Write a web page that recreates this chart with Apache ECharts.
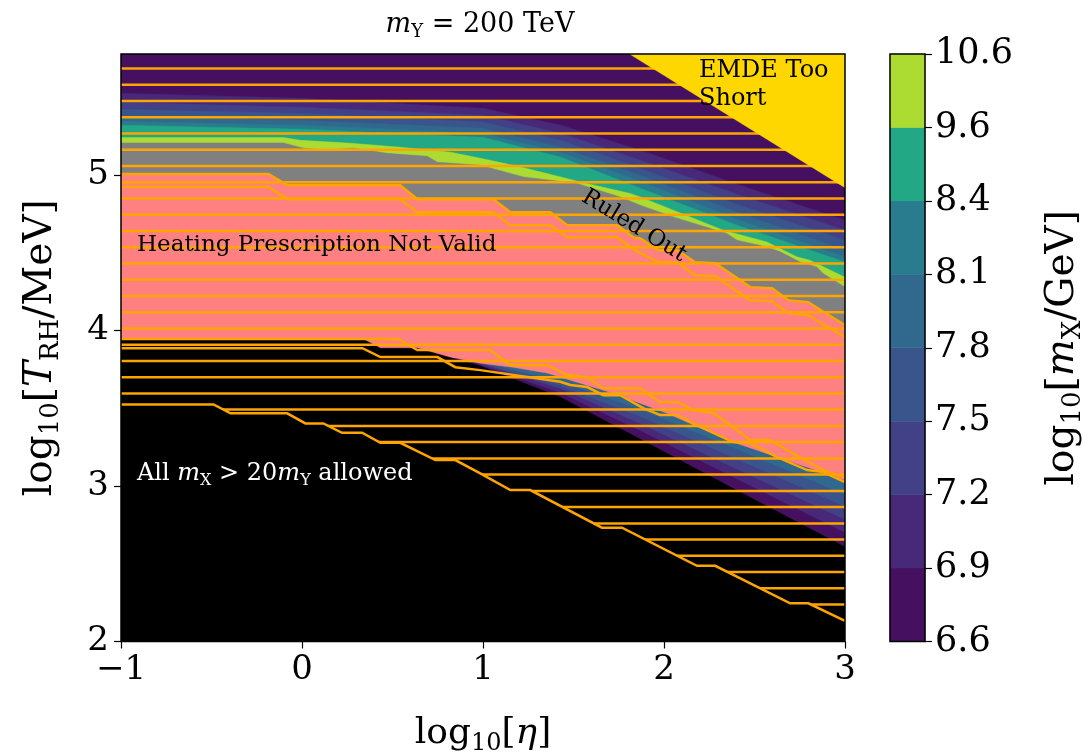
<!DOCTYPE html>
<html>
<head>
<meta charset="UTF-8"/>
<title></title>
<script src="https://cdn.jsdelivr.net/npm/echarts@6/dist/echarts.min.js"></script>
<style>
html,body{margin:0;padding:0;background:#fff;}
#placeholder{width:1090px;height:756px;}
</style>
</head>
<body>
<div id="placeholder"></div>
<script type="text/javascript">
var SERIF = '"DejaVu Serif", serif';

// axis ticks
var xTicks = [-1, 0, 1, 2, 3];
var yTicks = [2, 3, 4, 5];

// colorbar levels of log10[m_X/GeV] and their colours
var cbLevels = ['6.6', '6.9', '7.2', '7.5', '7.8', '8.1', '8.4', '9.6', '10.6'];
var cbColors = ['#461061', '#482878', '#424086', '#39558c', '#31688e', '#297b8e', '#22a884', '#acdc31'];

// upper contour lines (level boundaries), read at bandX
var bandX = [-1, 0, 1, 1.43, 1.87, 2.42, 3];
var upper69 = [5.527, 5.495, 5.431, 5.322, 5.161, 4.936, 4.711];
var upper72 = [5.469, 5.437, 5.386, 5.270, 5.096, 4.871, 4.646];
var upper75 = [5.424, 5.399, 5.343, 5.225, 5.045, 4.807, 4.582];
var upper78 = [5.379, 5.354, 5.302, 5.180, 5.000, 4.756, 4.518];
var upper81 = [5.347, 5.322, 5.270, 5.148, 4.962, 4.711, 4.475];
var upper84 = [5.322, 5.296, 5.244, 5.116, 4.916, 4.672, 4.442];
var upper96 = [[-1, 5.242], [-0.103, 5.242], [-0.009, 5.225], [0.267, 5.206], [0.543, 5.180], [0.820, 5.148],
  [0.985, 5.109], [1.167, 5.064], [1.353, 5.011], [1.537, 4.957], [1.813, 4.882], [1.869, 4.860], [2.051, 4.775],
  [2.327, 4.646], [2.568, 4.571], [2.733, 4.475], [2.806, 4.453], [3, 4.344]];

// "ruled out" (grey) upper edge
var ruledTop = [[-1, 5.208], [-0.103, 5.208], [0.008, 5.174], [0.140, 5.161], [0.284, 5.174], [0.472, 5.141],
  [0.692, 5.122], [0.748, 5.084], [0.985, 5.064], [1.223, 4.989], [1.519, 4.947], [1.758, 4.860], [1.869, 4.807],
  [2.051, 4.732], [2.347, 4.625], [2.403, 4.582], [2.568, 4.539], [2.642, 4.507], [2.752, 4.442], [2.844, 4.410],
  [2.879, 4.368], [3, 4.280]];

// lower strip contour lines, read at stripX
var stripX = [0.637, 0.985, 1.427, 1.869, 2.421, 3];
var lower69 = [3.887, 3.778, 3.598, 3.354, 3.032, 2.698];
var lower72 = [3.887, 3.785, 3.624, 3.399, 3.096, 2.781];
var lower75 = [3.887, 3.791, 3.643, 3.444, 3.161, 2.865];
var lower78 = [3.887, 3.798, 3.669, 3.489, 3.225, 2.942];

// heating prescription not valid (pink)
var pinkTop = [[-1, 5.008], [-0.186, 5.008], [-0.081, 4.936], [0.543, 4.936], [0.637, 4.846], [1.057, 4.846],
  [1.151, 4.762], [1.372, 4.762], [1.465, 4.678], [1.742, 4.678], [1.830, 4.601], [1.869, 4.593], [1.968, 4.518],
  [2.073, 4.518], [2.172, 4.440], [2.283, 4.434], [2.476, 4.280], [2.597, 4.273], [2.686, 4.196], [2.796, 4.183],
  [3, 4.035]];
var pinkLow = [[-1, 3.945], [0.339, 3.945], [0.433, 3.887], [0.637, 3.887], [0.764, 3.830], [0.858, 3.823],
  [0.985, 3.791], [1.167, 3.765], [1.355, 3.727], [1.720, 3.598], [2.018, 3.469], [2.349, 3.296], [3, 3.039]];

// all m_X > 20 m_Y allowed (black) upper edge
var blackTop = [[-1, 3.945], [0.339, 3.945], [0.433, 3.887], [0.637, 3.887], [0.985, 3.772], [1.427, 3.572],
  [1.869, 3.302], [2.421, 2.961], [3, 2.608]];

// hatched region lower boundary
var hatchLow = [[-1, 3.525], [-0.489, 3.525], [-0.395, 3.468], [-0.082, 3.468], [0.019, 3.403], [0.118, 3.403],
  [0.221, 3.343], [0.332, 3.343], [0.433, 3.278], [0.543, 3.278], [0.737, 3.167], [0.847, 3.167], [0.985, 3.082],
  [1.151, 2.974], [1.261, 2.974], [1.657, 2.732], [1.768, 2.732], [2.182, 2.487], [2.283, 2.487], [2.697, 2.246],
  [2.798, 2.246], [3, 2.132]];

// other hatched-region edges
var edgeB = [[-1, 4.925], [-0.186, 4.925], [-0.081, 4.846], [0.543, 4.846], [0.637, 4.762], [1.057, 4.762],
  [1.151, 4.678], [1.372, 4.678], [1.465, 4.601], [1.742, 4.601], [1.830, 4.524], [1.968, 4.440], [2.073, 4.440],
  [2.172, 4.357], [2.283, 4.350], [2.476, 4.196], [2.597, 4.190], [2.686, 4.113], [2.796, 4.100], [3, 3.958]];
var edgeC = [[-1, 3.947], [0.532, 3.947], [0.637, 3.875], [1.040, 3.875], [1.151, 3.778], [1.355, 3.778],
  [1.465, 3.714], [1.576, 3.701], [1.664, 3.630], [1.869, 3.630], [1.979, 3.540], [2.078, 3.540], [2.161, 3.489],
  [2.272, 3.470], [2.382, 3.379], [2.476, 3.296], [2.586, 3.296], [2.680, 3.232], [2.879, 3.103], [3, 3.058]];
var edgeD = [[-1, 3.887], [0.334, 3.887], [0.433, 3.830], [0.748, 3.830], [0.847, 3.765], [0.985, 3.746],
  [1.427, 3.671], [1.482, 3.650], [1.576, 3.637], [1.664, 3.585], [1.758, 3.585], [1.885, 3.502], [1.979, 3.457],
  [2.073, 3.457], [2.183, 3.392], [2.382, 3.283], [2.476, 3.277], [2.625, 3.186], [2.791, 3.103], [2.879, 3.090],
  [3, 3.026]];

// horizontal hatch lines
var hatchY = [5.686, 5.582, 5.477, 5.373, 5.268, 5.164, 5.059, 4.955, 4.850, 4.746, 4.641, 4.537, 4.432, 4.328,
  4.223, 4.119, 4.014, 3.910, 3.805, 3.701, 3.596, 3.492, 3.387, 3.283, 3.178, 3.074, 2.969, 2.865, 2.760, 2.656,
  2.551, 2.447, 2.342, 2.238, 2.133];

// EMDE too short
var emde = [[1.81, 5.78], [3, 5.78], [3, 4.92]];

var X0 = -1, X1 = 3, Y0 = 2, Y1 = 5.78;

function zip(xs, ys) {
  return xs.map(function (x, i) { return [x, ys[i]]; });
}
function below(pts) {
  return pts.concat([[pts[pts.length - 1][0], Y0], [pts[0][0], Y0]]);
}

function polySeries(pts, color) {
  return {
    type: 'custom', silent: true, clip: true, data: [[0, 3]],
    renderItem: function (params, api) {
      return {
        type: 'polygon',
        shape: {points: pts.map(function (p) { return api.coord(p); })},
        style: {fill: color, stroke: color, lineWidth: 0.5}
      };
    }
  };
}
function lineSeries(pts) {
  return {
    type: 'custom', silent: true, clip: true, data: [[0, 3]],
    renderItem: function (params, api) {
      return {
        type: 'polyline',
        shape: {points: pts.map(function (p) { return api.coord(p); })},
        style: {fill: null, stroke: '#ffa500', lineWidth: 2.5}
      };
    }
  };
}

var series = [];
series.push(polySeries([[X0, Y1], [X1, Y1], [X1, Y0], [X0, Y0]], cbColors[0]));
[upper69, upper72, upper75, upper78, upper81, upper84].forEach(function (ys, i) {
  series.push(polySeries(below(zip(bandX, ys)), cbColors[i + 1]));
});
series.push(polySeries(below(upper96), cbColors[7]));
series.push(polySeries(below(ruledTop), '#808080'));
series.push(polySeries(below(pinkLow), cbColors[4]));
[lower78, lower75, lower72, lower69].forEach(function (ys, i) {
  series.push(polySeries(below(zip(stripX, ys)), cbColors[3 - i]));
});
series.push(polySeries(pinkTop.concat(pinkLow.slice().reverse()), '#ff8080'));
series.push(polySeries(below(blackTop), '#000000'));
series.push({
  type: 'custom', silent: true, clip: true,
  data: hatchY.map(function (y) { return [X0, y]; }),
  renderItem: function (params, api) {
    var a = api.coord([X0, api.value(1)]);
    var b = api.coord([X1, api.value(1)]);
    return {type: 'line', shape: {x1: a[0], y1: a[1], x2: b[0], y2: b[1]},
      style: {stroke: '#ffa500', lineWidth: 2.5}};
  }
});
series.push(polySeries(below(hatchLow), '#000000'));
[hatchLow, pinkTop, edgeB, edgeC, edgeD].forEach(function (pts) {
  series.push(lineSeries(pts));
});
series.push(polySeries(emde, '#ffd700'));

// colorbar
series.push({
  type: 'custom', silent: true, xAxisIndex: 1, yAxisIndex: 1,
  data: cbColors.map(function (c, i) { return [0, i]; }),
  renderItem: function (params, api) {
    var i = api.value(1);
    var a = api.coord([0, i + 1]);
    var b = api.coord([1, i]);
    return {type: 'rect', shape: {x: a[0], y: a[1], width: b[0] - a[0], height: b[1] - a[1]},
      style: {fill: cbColors[i], stroke: cbColors[i], lineWidth: 0.5}};
  }
});

var richMath = function (size, sub, color) {
  return {
    r: {fontFamily: SERIF, fontSize: size, color: color, fill: color, lineHeight: size + 6},
    i: {fontFamily: SERIF, fontStyle: 'italic', fontSize: size, color: color, fill: color, lineHeight: size + 6},
    s: {fontFamily: SERIF, fontSize: sub, color: color, fill: color, lineHeight: sub, padding: [Math.round(size * 0.55), 0, 0, 0]}
  };
};

function fmtMinus(v) {
  return v < 0 ? '\u2212' + Math.abs(v) : String(v);
}

var myChart = echarts.init(document.getElementById('placeholder'));
var option = {
  animation: false,
  backgroundColor: '#ffffff',
  grid: [
    {left: 121, top: 54, width: 724, height: 587.5, outerBoundsMode: 'none', containLabel: false,
      show: true, borderColor: '#000', borderWidth: 1.5, backgroundColor: 'transparent', z: 10},
    {left: 890, top: 54, width: 35, height: 587.5, outerBoundsMode: 'none', containLabel: false,
      show: true, borderColor: '#000', borderWidth: 1.5, backgroundColor: 'transparent', z: 10}
  ],
  xAxis: [
    {
      gridIndex: 0, type: 'value', min: X0, max: X1, interval: 1, z: 10,
      axisLine: {show: false, onZero: false},
      axisTick: {show: true, length: 7, customValues: xTicks, lineStyle: {color: '#000', width: 1.2}},
      axisLabel: {customValues: xTicks, formatter: fmtMinus, fontFamily: SERIF, fontSize: 34, color: '#000', margin: 12},
      splitLine: {show: false},
      name: '{r|log}{s|10}{r|[}{i|η}{r|]}', nameLocation: 'middle', nameGap: 71,
      nameTextStyle: {rich: richMath(36, 24, '#000')}
    },
    {gridIndex: 1, type: 'value', min: 0, max: 1, show: false}
  ],
  yAxis: [
    {
      gridIndex: 0, type: 'value', min: Y0, max: Y1, interval: 1, z: 10,
      axisLine: {show: false, onZero: false},
      axisTick: {show: true, length: 7, customValues: yTicks, lineStyle: {color: '#000', width: 1.2}},
      axisLabel: {customValues: yTicks, fontFamily: SERIF, fontSize: 34, color: '#000', margin: 12},
      splitLine: {show: false},
      name: '{r|log}{s|10}{r|[}{i|T}{s|RH}{r|/MeV]}', nameLocation: 'middle', nameGap: 58, nameRotate: 90,
      nameTextStyle: {rich: richMath(39, 26, '#000')}
    },
    {
      gridIndex: 1, type: 'value', min: 0, max: 8, interval: 1, position: 'right', z: 10,
      axisLine: {show: false, onZero: false},
      axisTick: {show: true, length: 7, lineStyle: {color: '#000', width: 1.2}},
      axisLabel: {formatter: function (v) { return cbLevels[Math.round(v)]; }, fontFamily: SERIF, fontSize: 35, color: '#000', margin: 10},
      splitLine: {show: false},
      name: '{r|log}{s|10}{r|[}{i|m}{s|X}{r|/GeV]}', nameLocation: 'middle', nameGap: 115, nameRotate: 90,
      nameTextStyle: {rich: richMath(39, 26, '#000')}
    }
  ],
  graphic: [
    {type: 'text', x: 480, y: 25, z: 100, silent: true,
      style: {text: '{i|m}{s|Y}{r| = 200 TeV}', align: 'center', verticalAlign: 'middle', rich: richMath(27, 18, '#000')}},
    {type: 'text', x: 699, y: 71, z: 100, silent: true,
      style: {text: 'EMDE Too', font: '24px ' + SERIF, fill: '#000', align: 'left', verticalAlign: 'middle'}},
    {type: 'text', x: 699, y: 99, z: 100, silent: true,
      style: {text: 'Short', font: '24px ' + SERIF, fill: '#000', align: 'left', verticalAlign: 'middle'}},
    {type: 'text', x: 137, y: 245, z: 100, silent: true,
      style: {text: 'Heating Prescription Not Valid', font: '23px ' + SERIF, fill: '#000', align: 'left', verticalAlign: 'middle'}},
    {type: 'text', x: 634, y: 226, z: 100, silent: true, rotation: -0.55, originX: 0, originY: 0,
      style: {text: 'Ruled Out', font: '23px ' + SERIF, fill: '#000', align: 'center', verticalAlign: 'middle'}},
    {type: 'text', x: 137, y: 474, z: 100, silent: true,
      style: {text: '{r|All }{i|m}{s|X}{r| > 20}{i|m}{s|Y}{r| allowed}', align: 'left', verticalAlign: 'middle', rich: richMath(24, 16, '#ffffff')}}
  ],
  series: series
};
if (option && typeof option === "object") {
  myChart.setOption(option, true);
}
</script>
</body>
</html>
